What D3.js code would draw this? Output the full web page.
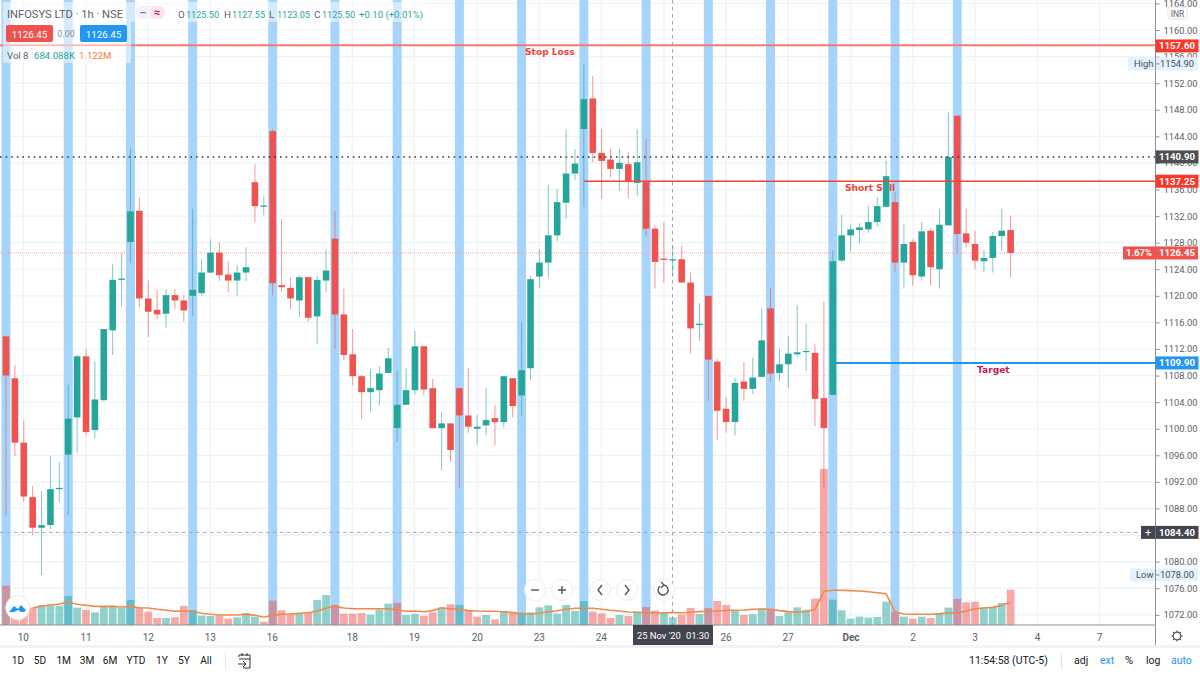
<!DOCTYPE html>
<html>
<head>
<meta charset="utf-8">
<script src="https://cdnjs.cloudflare.com/ajax/libs/d3/7.8.5/d3.min.js"></script>
<style>
html,body{margin:0;padding:0;background:#fff;overflow:hidden}
text{font-family:Roboto,sans-serif}
</style>
</head>
<body>
<svg width="1200" height="675"></svg>
<script>
// hourly candles, one row per column: open, high, low, close
var open = [1113.9,1107.6,1097.9,1089.7,1085.1,1085.5,1090.9,1096.1,1101.7,1110.9,1099.8,1104.3,1114.8,1122.4,1128.1,1132.8,1119.6,1117.9,1117.3,1120.1,1119.3,1120.0,1120.4,1123.5,1126.5,1123.2,1122.3,1123.5,1137.1,1133.4,1144.8,1121.6,1121.2,1119.3,1122.8,1116.9,1122.3,1128.6,1117.2,1111.2,1107.9,1105.5,1105.8,1108.4,1100.1,1103.6,1105.8,1112.4,1106.1,1100.1,1100.8,1106.1,1102.0,1100.0,1100.5,1101.6,1101.0,1107.6,1105.0,1109.1,1122.9,1125.0,1129.1,1134.0,1138.4,1145.1,1149.7,1141.5,1140.5,1139.1,1139.8,1137.0,1137.1,1130.1,1125.6,1125.5,1125.5,1122.0,1115.6,1120.0,1110.1,1103.0,1101.0,1107.1,1106.0,1107.8,1118.1,1108.4,1109.7,1111.2,1111.6,1111.4,1104.6,1105.1,1125.3,1129.1,1129.9,1130.0,1131.1,1133.4,1134.1,1125.0,1128.1,1122.9,1129.8,1124.0,1130.6,1147.1,1129.4,1127.8,1125.2,1125.7,1129.0,1129.9];
var high = [1113.9,1109.6,1101.2,1091.4,1090.6,1095.9,1095.0,1106.6,1111.1,1112.0,1110.1,1115.0,1124.8,1126.4,1142.1,1134.8,1122.3,1120.9,1121.0,1121.0,1120.1,1133.1,1125.6,1128.5,1128.0,1125.2,1124.6,1127.3,1139.8,1135.1,1145.1,1131.6,1122.8,1123.1,1122.8,1123.0,1127.0,1132.8,1121.1,1115.0,1108.1,1109.0,1109.4,1112.1,1108.7,1109.1,1114.7,1112.4,1107.5,1102.5,1100.8,1106.2,1109.1,1102.1,1106.1,1103.6,1107.9,1107.6,1116.0,1123.0,1127.0,1136.7,1136.1,1145.0,1142.1,1154.9,1153.1,1145.1,1142.1,1142.1,1141.6,1145.1,1143.6,1130.6,1131.1,1127.55,1127.5,1123.5,1118.9,1120.0,1110.5,1104.8,1107.7,1110.0,1110.7,1118.1,1121.2,1112.0,1113.9,1118.6,1115.8,1112.7,1119.1,1126.9,1132.2,1130.7,1130.9,1133.6,1134.9,1140.3,1135.6,1130.8,1128.5,1131.1,1130.1,1133.1,1147.6,1147.1,1133.1,1129.8,1126.9,1129.6,1133.1,1132.1];
var low = [1087.0,1095.9,1089.0,1084.0,1078.0,1084.9,1088.9,1087.0,1096.4,1099.0,1098.6,1104.2,1111.1,1118.4,1125.0,1118.3,1113.8,1116.5,1115.2,1118.0,1116.1,1117.0,1120.0,1123.4,1122.2,1120.5,1120.0,1122.2,1131.1,1132.1,1120.0,1120.6,1118.0,1116.8,1116.1,1112.7,1120.5,1112.0,1110.3,1106.5,1101.5,1102.6,1103.5,1108.3,1098.0,1103.6,1105.1,1105.0,1100.1,1093.8,1095.0,1091.1,1099.4,1097.6,1099.0,1097.5,1100.2,1101.7,1102.0,1107.3,1121.2,1122.7,1128.2,1131.6,1137.4,1133.4,1140.1,1134.6,1137.8,1135.8,1134.7,1135.1,1129.1,1121.1,1122.0,1123.05,1122.0,1111.3,1113.2,1104.1,1098.3,1099.4,1099.0,1104.2,1105.2,1107.8,1107.1,1107.1,1106.1,1110.7,1108.7,1100.4,1091.0,1105.1,1125.1,1126.7,1127.9,1129.5,1130.4,1133.4,1123.6,1121.1,1121.5,1122.3,1121.6,1121.1,1130.6,1126.4,1127.3,1124.0,1123.5,1123.5,1126.7,1122.8];
var close = [1108.0,1097.9,1089.8,1085.1,1085.5,1090.9,1091.1,1101.5,1110.9,1099.5,1104.4,1115.0,1122.4,1122.6,1132.7,1119.6,1117.6,1117.2,1120.1,1119.3,1117.8,1120.9,1123.5,1126.5,1123.1,1122.3,1123.5,1124.3,1133.5,1133.6,1121.9,1121.3,1119.6,1122.8,1116.7,1122.4,1123.8,1117.2,1111.1,1107.9,1105.5,1106.1,1108.3,1110.6,1103.6,1105.8,1112.4,1105.9,1100.1,1100.8,1096.8,1102.0,1100.3,1100.3,1101.3,1101.0,1107.9,1103.4,1108.8,1122.5,1125.0,1129.1,1134.1,1138.4,1139.9,1149.6,1141.5,1140.3,1139.1,1140.0,1137.3,1140.1,1130.1,1125.1,1125.4,1125.5,1122.0,1115.1,1115.8,1110.4,1102.7,1101.0,1106.9,1106.0,1107.7,1113.3,1108.3,1109.7,1111.3,1111.5,1111.7,1104.5,1100.1,1125.2,1129.1,1130.0,1130.3,1131.1,1133.5,1138.0,1125.0,1127.8,1123.1,1129.7,1124.3,1130.7,1140.9,1129.3,1128.0,1125.3,1125.7,1129.0,1129.8,1126.45];

var volume = [3500,1485,1485,1543,1750,1750,1720,2581,1543,1335,1127,1632,1720,1543,2225,1543,1187,623,623,682,1691,1335,831,801,831,564,682,1068,742,297,2166,1305,1009,1009,1127,2225,2670,1780,1009,1009,1068,920,1365,1899,1958,890,979,831,1127,1572,1839,1780,1246,742,890,504,1246,1187,1098,1127,1572,1750,1009,1780,1276,2136,1187,1038,623,890,801,1187,1602,1276,1157,684,920,1513,979,1513,2136,1780,1246,890,949,1483,1394,801,1127,1572,1365,2344,13884,2255,1305,564,742,653,712,2077,1187,742,564,742,623,979,1543,2314,2018,2077,1572,1602,1958,3145];
var volDown = [0,1,2,3,9,15,16,17,19,20,24,25,29,30,31,32,34,37,38,39,40,44,47,48,50,52,53,55,57,66,67,68,70,72,73,76,77,79,80,81,83,86,91,92,100,102,104,107,108,109,113];
var volMA = [null,null,null,1510,1690,1780,1870,2050,1840,1750,1660,1660,1660,1600,1660,1540,1510,1400,1310,1220,1250,1220,1040,950,890,890,890,950,860,690,860,950,980,1040,1090,1250,1490,1660,1510,1450,1450,1450,1450,1450,1335,1220,1250,1180,1280,1530,1420,1420,1280,1240,1220,1220,1180,1095,980,980,1040,1180,1270,1400,1490,1490,1490,1400,1310,1250,1160,1130,1095,1095,1070,1122,1070,1130,1190,1220,1250,1310,1310,1340,1400,1430,1400,1280,1190,1130,1180,1400,3000,3090,3090,3060,3030,2960,2870,2790,1160,980,950,950,950,1010,1070,1100,1220,1450,1510,1570,1750,2020];

var dayLabels = ["10","11","12","13","16","18","19","20","23","24","25","26","27","Dec","2","3","4","7"];
var dayX = [23.3,86,148.3,210.3,272.3,352.3,414.3,477.3,539.3,601.3,664,726,788,851,913,975,1037.5,1099.5];

var bandBars = [0,7,14,21,30,37,44,51,58,65,72,79,86,93,100,107];
var priceTicks = [1164,1160,1156,1152,1148,1144,1140,1136,1132,1128,1124,1120,1116,1112,1108,1104,1100,1096,1092,1088,1084,1080,1076,1072];
var rangeButtons = ["1D","5D","1M","3M","6M","YTD","1Y","5Y","All"];
var rangeX = [18,40,63.7,87,110,136,162,184,206];

var stopLoss = 1157.60, prevLine = 1140.90, shortSell = 1137.25, lastPrice = 1126.45, target = 1109.90, lowerDash = 1084.40, dayHigh = 1154.90, dayLow = 1078.00;

var upColor = "#26a69a", downColor = "#ef5350";

var svg = d3.select("svg");
var axisX = 1155.5, baseY = 625;

var x = d3.scaleLinear().domain([0, 113]).range([6, 1010.6]);
var y = d3.scaleLinear().domain([1160, 1072]).range([30, 614.8]);
var v = d3.scaleLinear().domain([0, 1000]).range([baseY, baseY - 11.24]);

function up(i){return close[i] >= open[i]}

// grid
var gridG = svg.append("g");
gridG.selectAll(".h").data(priceTicks).enter().append("line")
.attr("x1", 0).attr("x2", axisX).attr("y1", function(d){return y(d)}).attr("y2", function(d){return y(d)})
.attr("stroke", "#edf2f6").attr("stroke-width", 1.2);
gridG.selectAll(".v").data(dayX).enter().append("line")
.attr("x1", function(d){return d}).attr("x2", function(d){return d}).attr("y1", 0).attr("y2", baseY)
.attr("stroke", "#edf2f6").attr("stroke-width", 1.2);

// blue day bands
svg.append("g").selectAll("rect").data(bandBars).enter().append("rect")
.attr("x", function(d){return x(d) - 4.5}).attr("width", 9)
.attr("y", 0).attr("height", baseY).attr("fill", "#a6d4fa");

// dashed line near the bottom, crosshair
svg.append("line").attr("x1", 0).attr("x2", 1140).attr("y1", y(lowerDash)).attr("y2", y(lowerDash))
.attr("stroke", "#a3a6af").attr("stroke-width", 1).attr("stroke-dasharray", "3.5 3.5");
svg.append("line").attr("x1", 672.5).attr("x2", 672.5).attr("y1", 0).attr("y2", baseY)
.attr("stroke", "#a3a6af").attr("stroke-width", 1).attr("stroke-dasharray", "3.5 3.5");

// volume
svg.append("g").selectAll("rect").data(volume).enter().append("rect")
.attr("x", function(d, i){return x(i) - 3.9}).attr("width", 7.8)
.attr("y", function(d){return v(d)}).attr("height", function(d){return baseY - v(d)})
.attr("fill", function(d, i){return volDown.indexOf(i) >= 0 ? "rgba(239,83,80,0.5)" : "rgba(38,166,154,0.5)"});

var maLine = d3.line().defined(function(d){return d != null}).x(function(d, i){return x(i)}).y(function(d){return v(d)});
svg.append("path").attr("d", maLine(volMA)).attr("fill", "none").attr("stroke", "#f08a4b").attr("stroke-width", 1.6);

// current price dotted
svg.append("line").attr("x1", 0).attr("x2", axisX).attr("y1", y(lastPrice)).attr("y2", y(lastPrice))
.attr("stroke", "#f7a6a5").attr("stroke-width", 1).attr("stroke-dasharray", "1 1");

// drawing labels sit under the candles
function note(tx, ty, s, c){
  svg.append("text").attr("x", tx).attr("y", ty).text(s)
  .attr("font-size", 9.1).attr("font-weight", "bold").attr("fill", c)
  .style("font-family", "'DejaVu Sans',sans-serif");
}
note(525, 55, "Stop Loss", "#f44336");
note(845, 191, "Short Sell", "#f44336");
note(977, 373, "Target", "#c2185b");

// candles
var candles = svg.append("g").selectAll("g").data(open).enter().append("g");
candles.append("line")
.attr("x1", function(d, i){return x(i)}).attr("x2", function(d, i){return x(i)})
.attr("y1", function(d, i){return y(high[i])}).attr("y2", function(d, i){return y(low[i])})
.attr("stroke", function(d, i){return up(i) ? upColor : downColor})
.attr("stroke-width", 1).attr("stroke-opacity", 0.6);
candles.append("rect")
.attr("x", function(d, i){return x(i) - 3.3}).attr("width", 6.6)
.attr("y", function(d, i){return y(Math.max(open[i], close[i]))})
.attr("height", function(d, i){return Math.max(1.2, Math.abs(y(open[i]) - y(close[i])))})
.attr("fill", function(d, i){return up(i) ? upColor : downColor});

// price lines
svg.append("line").attr("x1", 0).attr("x2", axisX).attr("y1", y(stopLoss) - 0.6).attr("y2", y(stopLoss) - 0.6)
.attr("stroke", "#f47a70").attr("stroke-width", 2);
svg.append("line").attr("x1", 0).attr("x2", axisX).attr("y1", y(prevLine)).attr("y2", y(prevLine))
.attr("stroke", "#333").attr("stroke-width", 1.6).attr("stroke-dasharray", "1.6 4");
svg.append("line").attr("x1", x(65)).attr("x2", axisX).attr("y1", y(shortSell)).attr("y2", y(shortSell))
.attr("stroke", "#f44336").attr("stroke-width", 1.4);
svg.append("line").attr("x1", x(93) + 3).attr("x2", axisX).attr("y1", y(target)).attr("y2", y(target))
.attr("stroke", "#2196f3").attr("stroke-width", 2);

// legend veils over the bands
svg.append("rect").attr("x", 3).attr("y", 2).attr("width", 422).attr("height", 20).attr("fill", "rgba(255,255,255,0.5)");
svg.append("rect").attr("x", 3).attr("y", 22).attr("width", 128).attr("height", 41).attr("fill", "rgba(255,255,255,0.5)");

function txt(px, py, s, c, size, anchor, weight){
  return svg.append("text").attr("x", px).attr("y", py).text(s).attr("fill", c)
  .attr("font-size", size || 11).attr("text-anchor", anchor || "start").attr("font-weight", weight || "normal");
}
txt(7, 18, "INFOSYS LTD · 1h · NSE", "#5d606b", 11.4).attr("textLength", 116).attr("lengthAdjust", "spacingAndGlyphs");
svg.append("rect").attr("x", 135).attr("y", 6).attr("width", 30).attr("height", 13).attr("rx", 6.5).attr("fill", "#f0f3fa");
svg.append("rect").attr("x", 150).attr("y", 6).attr("width", 15).attr("height", 13).attr("rx", 6.5).attr("fill", "#fce4ec");
txt(143, 16, "–", "#787b86", 11, "middle", "bold");
txt(157, 16, "≈", "#c2185b", 11, "middle", "bold");

var ohlcLabels = ["O","H","L","C"], ohlcX = [178,224,269,314], ohlcVals = [open[75],high[75],low[75],close[75]];
ohlcLabels.forEach(function(l, i){
  txt(ohlcX[i], 18, l, "#5d606b", 9.8);
  txt(ohlcX[i] + 8, 18, ohlcVals[i].toFixed(2), "#26a69a", 9.8).attr("textLength", 33).attr("lengthAdjust", "spacingAndGlyphs");
});
txt(359, 18, "+0.10 (+0.01%)", "#26a69a", 9.8).attr("textLength", 64).attr("lengthAdjust", "spacingAndGlyphs");

svg.append("rect").attr("x", 6).attr("y", 25).attr("width", 47).attr("height", 17).attr("rx", 2).attr("fill", "#ef5350");
txt(29.5, 37.5, "1126.45", "#fff", 9.8, "middle");
txt(66, 37, "0.00", "#8a8d96", 9, "middle");
svg.append("rect").attr("x", 80).attr("y", 25).attr("width", 47).attr("height", 17).attr("rx", 2).attr("fill", "#2196f3");
txt(103.5, 37.5, "1126.45", "#fff", 9.8, "middle");
txt(7, 59, "Vol 8", "#5d606b", 9.6);
txt(34, 59, "684.088K", "#26a69a", 9.6);
txt(79, 59, "1.122M", "#f57c3a", 9.6);

// right axis
svg.append("rect").attr("x", axisX).attr("y", 0).attr("width", 1200 - axisX).attr("height", 645).attr("fill", "#fff");
svg.append("line").attr("x1", axisX).attr("x2", axisX).attr("y1", 0).attr("y2", 645).attr("stroke", "#8c8f99").attr("stroke-width", 1);
svg.append("line").attr("x1", 0).attr("x2", axisX).attr("y1", baseY).attr("y2", baseY).attr("stroke", "#8c8f99").attr("stroke-width", 1);

// the 1084 label is fully hidden by its tag in the chart, so it gets no text
var yAxis = d3.axisRight(y).tickValues(priceTicks).tickSize(4).tickPadding(4).tickFormat(function(d){return d == 1084 ? "" : d.toFixed(2)});
var yG = svg.append("g").attr("transform", "translate(" + axisX + ",0)").call(yAxis);
yG.select(".domain").remove();
yG.selectAll("line").attr("stroke", "#8c8f99");
yG.selectAll("text").attr("fill", "#5d606b").attr("font-size", 9.4).style("font-family", "Roboto,sans-serif");

function priceTag(p, s, fill, color){
  svg.append("rect").attr("x", axisX).attr("y", y(p) - 6.5).attr("width", 43).attr("height", 13).attr("fill", fill);
  svg.append("text").attr("x", 1177).attr("y", y(p) + 3.5).attr("text-anchor", "middle").text(s)
  .attr("font-size", 9.6).attr("font-weight", "bold").attr("fill", color);
}
priceTag(stopLoss, "1157.60", "#f9382c", "#fff");
priceTag(prevLine, "1140.90", "#4f4f4f", "#fff");
priceTag(shortSell, "1137.25", "#f9382c", "#fff");
priceTag(target, "1109.90", "#2196f3", "#fff");
priceTag(lowerDash, "1084.40", "#434651", "#fff");

// last price tag with percent
svg.append("rect").attr("x", 1123).attr("y", y(lastPrice) - 6.5).attr("width", 75).attr("height", 13).attr("fill", "#ef5350");
txt(1139, y(lastPrice) + 3.5, "1.67%", "#fff", 9.4, "middle", "bold");
txt(1177, y(lastPrice) + 3.5, "1126.45", "#fff", 9.6, "middle", "bold");

// high and low tags
[[dayHigh, "High", 1128], [dayLow, "Low", 1130]].forEach(function(r){
  svg.append("rect").attr("x", r[2]).attr("y", y(r[0]) - 6.5).attr("width", 1198 - r[2]).attr("height", 13).attr("fill", "#e3f2fd");
  txt(r[2] + 6, y(r[0]) + 3.5, r[1], "#4a4d57", 9.4);
  txt(1177, y(r[0]) + 3.5, r[0].toFixed(2), "#4a4d57", 9.4, "middle");
  svg.append("line").attr("x1", axisX).attr("x2", axisX + 4).attr("y1", y(r[0])).attr("y2", y(r[0])).attr("stroke", "#8c8f99");
  svg.append("line").attr("x1", axisX).attr("x2", axisX).attr("y1", y(r[0]) - 6.5).attr("y2", y(r[0]) + 6.5).attr("stroke", "#8c8f99");
});

// plus button on dashed line
svg.append("rect").attr("x", 1141).attr("y", y(lowerDash) - 6.5).attr("width", 14).attr("height", 13).attr("fill", "#434651");
txt(1148, y(lowerDash) + 3.8, "+", "#fff", 11, "middle");

// INR
svg.append("rect").attr("x", 1168).attr("y", 7).attr("width", 19).attr("height", 12).attr("rx", 2).attr("fill", "#fff").attr("stroke", "#e0e3eb");
txt(1177.5, 16.5, "INR", "#5d606b", 8.5, "middle");

// time labels
dayLabels.forEach(function(l, i){
  if (l == "25") return;
  txt(dayX[i], 641, l, "#5d606b", 10, "middle", l == "Dec" ? "bold" : "normal");
});
svg.append("rect").attr("x", 633).attr("y", baseY).attr("width", 80).attr("height", 20).attr("fill", "#434651");
txt(637, 639, "25 Nov '20", "#fff", 9.4);
txt(686, 639, "01:30", "#fff", 9.4);

// gear
var gear = svg.append("g").attr("transform", "translate(1177,636)");
gear.append("circle").attr("r", 3.8).attr("fill", "none").attr("stroke", "#555").attr("stroke-width", 1.2);
d3.range(8).forEach(function(k){
  var a = k * Math.PI / 4;
  gear.append("line").attr("x1", 3.8 * Math.cos(a)).attr("y1", 3.8 * Math.sin(a)).attr("x2", 5.6 * Math.cos(a)).attr("y2", 5.6 * Math.sin(a)).attr("stroke", "#555").attr("stroke-width", 1.2);
});

// floating buttons
var floatX = [535,562,600,627,664];
floatX.forEach(function(cx){
  svg.append("circle").attr("cx", cx).attr("cy", 590).attr("r", 10.5).attr("fill", "#fff").attr("stroke", "#eceef2").attr("stroke-width", 1);
});
function icon(d){svg.append("path").attr("d", d).attr("fill", "none").attr("stroke", "#50535e").attr("stroke-width", 1.4)}
icon("M531 590H539");
icon("M558 590H566M562 586V594");
icon("M602 585L598 590L602 595");
icon("M625 585L629 590L625 595");
icon("M660 586A5 5 0 1 0 664 585M664 585L661 582M664 585L661 588");

// tradingview logo
svg.append("circle").attr("cx", 17.7).attr("cy", 607.7).attr("r", 12).attr("fill", "#fff").attr("stroke", "#e8eaef");
svg.append("path").attr("d", "M9 612L14 606L18 609L21 605L26 610L24 612H21L18 610L14 612Z").attr("fill", "#2196f3");

// bottom toolbar
svg.append("rect").attr("x", 0).attr("y", 645).attr("width", 1200).attr("height", 3).attr("fill", "#f0f3fa");
rangeButtons.forEach(function(b, i){
  txt(rangeX[i], 664, b, "#131722", 10.2, "middle");
});
svg.append("line").attr("x1", 225.5).attr("x2", 225.5).attr("y1", 653).attr("y2", 669).attr("stroke", "#e0e3eb");
svg.append("path").attr("d", "M239 657V655H250V668H243M239 659H250M242 653V656M247 653V656M238 664H245M243 661L246 664L243 667")
.attr("fill", "none").attr("stroke", "#333").attr("stroke-width", 1);

txt(969, 664, "11:54:58 (UTC-5)", "#131722", 10.5);
svg.append("line").attr("x1", 1061.5).attr("x2", 1061.5).attr("y1", 653).attr("y2", 669).attr("stroke", "#e0e3eb");
txt(1074, 664, "adj", "#131722", 10.5);
txt(1100, 664, "ext", "#2196f3", 10.5);
txt(1125, 664, "%", "#131722", 11);
txt(1146, 664, "log", "#131722", 10.5);
txt(1171, 664, "auto", "#2196f3", 10.5);
</script>
</body>
</html>
